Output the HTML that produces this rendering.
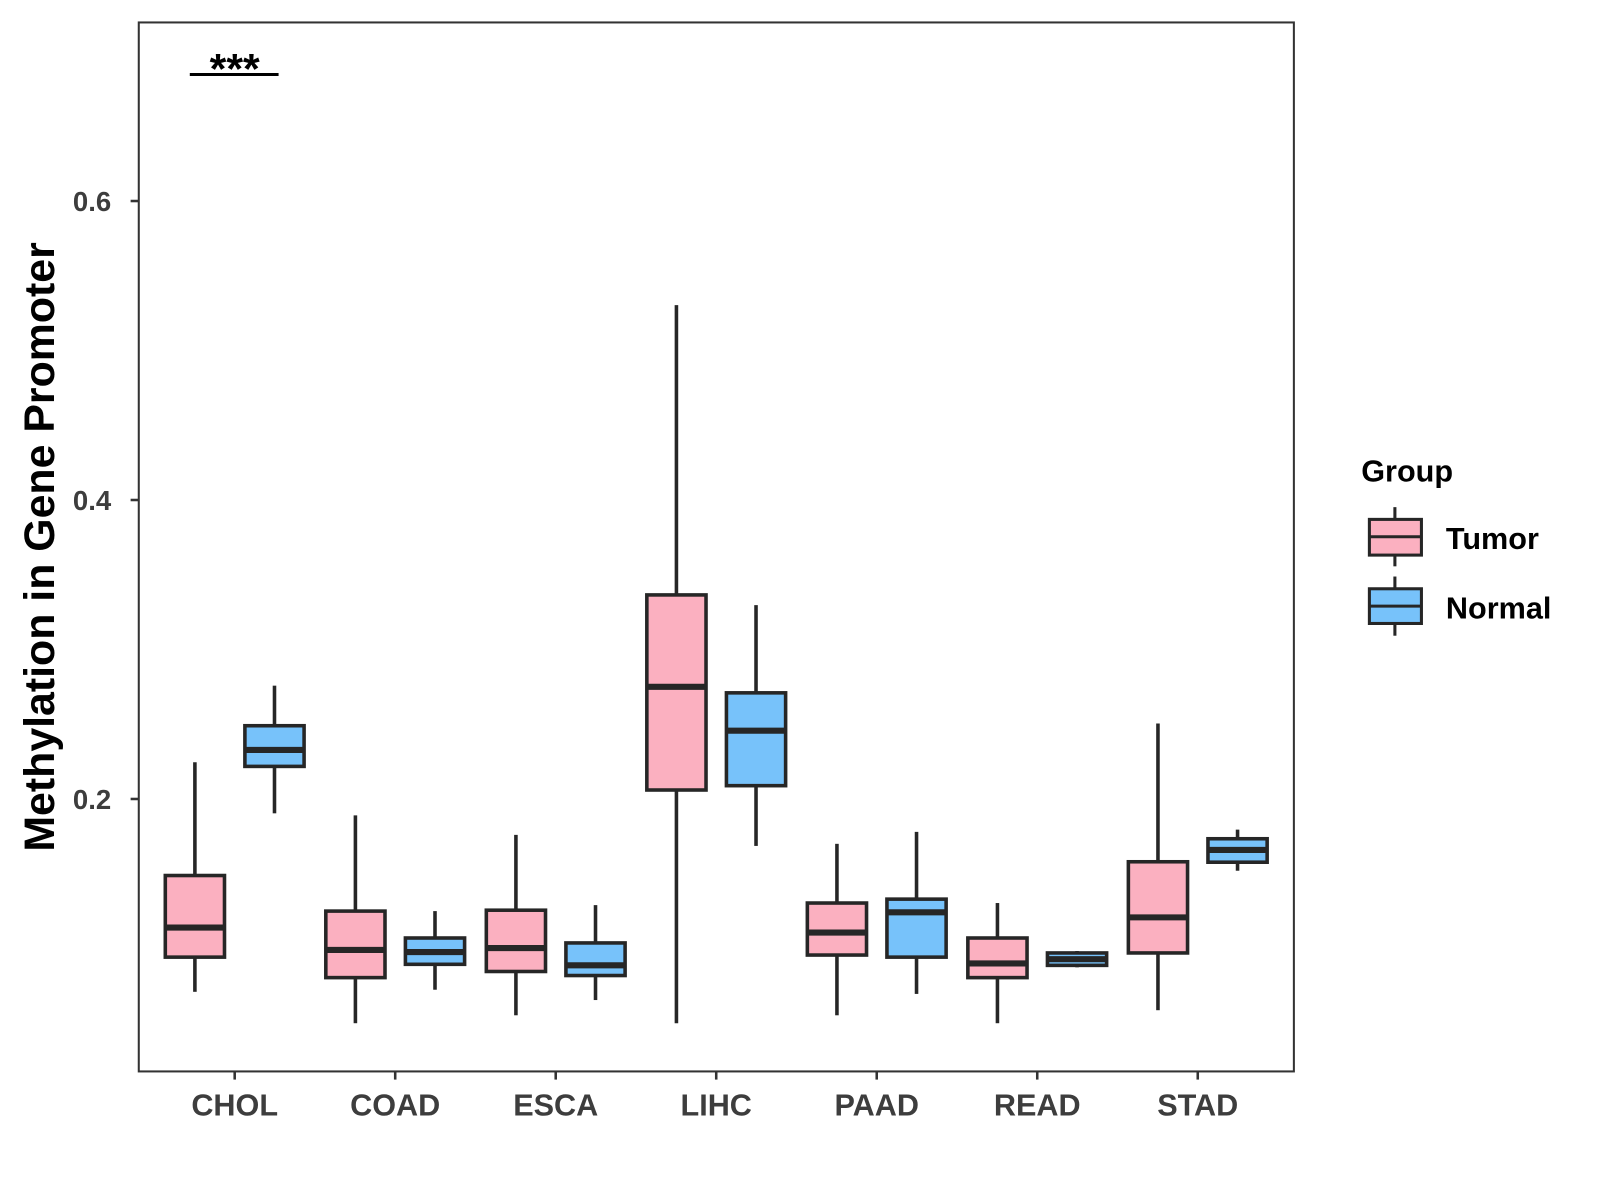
<!DOCTYPE html>
<html><head><meta charset="utf-8"><style>html,body{margin:0;padding:0;background:#fff}svg{display:block}</style></head>
<body>
<svg id="chart" width="1600" height="1200" viewBox="0 0 1568 1176" xmlns="http://www.w3.org/2000/svg" font-family="Liberation Sans, Arial, sans-serif">
<rect width="1568" height="1176" fill="#fff"/>
<g id="plot"></g>
</svg>
<script>
const categories = ["CHOL","COAD","ESCA","LIHC","PAAD","READ","STAD"];
// [low, q1, median, q3, high]
const tumorStats = [
  [0.071,0.0942,0.114,0.1488,0.2246],
  [0.050,0.0805,0.099,0.125,0.189],
  [0.0553,0.0846,0.1003,0.1256,0.176],
  [0.050,0.206,0.275,0.3365,0.5304],
  [0.0553,0.0956,0.1106,0.1304,0.170],
  [0.050,0.0805,0.090,0.107,0.1304],
  [0.0587,0.097,0.1208,0.158,0.2505]
];
const normalStats = [
  [0.1904,0.2218,0.2328,0.249,0.2758],
  [0.0724,0.0894,0.0976,0.107,0.125],
  [0.0655,0.0819,0.0887,0.1037,0.129],
  [0.1686,0.2089,0.2457,0.271,0.3297],
  [0.0696,0.0942,0.1242,0.133,0.178],
  [0.0874,0.0887,0.0928,0.097,0.0983],
  [0.152,0.1577,0.1659,0.1734,0.1795]
];
const yTicks = [0.2,0.4,0.6];
const yTickLabels = ["0.2","0.4","0.6"];

const NS="http://www.w3.org/2000/svg";
const g=document.getElementById('plot');
const L=136,R=1268,T=22,B=1050;
function yScale(v){return 783-(v-0.2)*1465;}
function xScale(i){return 230+i*157.3;}
function mk(tag,attrs,parent){const e=document.createElementNS(NS,tag);for(const k in attrs)e.setAttribute(k,attrs[k]);(parent||g).appendChild(e);return e;}

function drawBox(cx,s,fill,name){
  const grp=mk('g',{});
  
  
  const w=29;
  mk('line',{x1:cx,x2:cx,y1:yScale(s[4]),y2:yScale(s[3]),stroke:'#262626','stroke-width':3.5},grp);
  mk('line',{x1:cx,x2:cx,y1:yScale(s[1]),y2:yScale(s[0]),stroke:'#262626','stroke-width':3.5},grp);
  mk('rect',{x:cx-w,y:yScale(s[3]),width:2*w,height:yScale(s[1])-yScale(s[3]),fill:fill,stroke:'#262626','stroke-width':3.5},grp);
  mk('line',{x1:cx-w,x2:cx+w,y1:yScale(s[2]),y2:yScale(s[2]),stroke:'#262626','stroke-width':6},grp);
}
categories.forEach((c,i)=>{
  const cx=xScale(i);
  drawBox(cx-39,tumorStats[i],'#fbb0c0','box-tumor-'+c.toLowerCase());
  drawBox(cx+39,normalStats[i],'#77c2fa','box-normal-'+c.toLowerCase());
  const tk=mk('line',{x1:cx,x2:cx,y1:B,y2:B+8,stroke:'#333','stroke-width':2.5});
  
  
  const t=mk('text',{x:cx,y:1093,'text-anchor':'middle','font-size':30,'font-weight':'bold',fill:'#3d3d3d'});
  t.textContent=c;
  
  
});
yTicks.forEach((v,i)=>{
  const y=yScale(v);
  const tk=mk('line',{x1:L-8,x2:L,y1:y,y2:y,stroke:'#333','stroke-width':2.5});
  
  
  const t=mk('text',{x:L-27,y:y+10,'text-anchor':'end','font-size':27,'font-weight':'bold',fill:'#3d3d3d'});
  t.textContent=yTickLabels[i];
  
  
});
const fr=mk('rect',{x:L,y:T,width:R-L,height:B-T,fill:'none',stroke:'#333','stroke-width':2});


</script>
<script>
(function(){
const svg=document.getElementById('chart');
svg.insertAdjacentHTML('beforeend',`
<text transform="translate(53,536) rotate(-90)" text-anchor="middle" font-size="42" font-weight="bold" fill="#000">Methylation in Gene Promoter</text>
<g>
<line x1="186" x2="273" y1="73" y2="73" stroke="#000" stroke-width="3"/>
<text x="230" y="82" text-anchor="middle" font-size="42" font-weight="bold" fill="#000">***</text>
</g>
<g>
<text x="1334" y="472" font-size="30" font-weight="bold" fill="#000">Group</text>
<g>
<line x1="1367" x2="1367" y1="497" y2="555" stroke="#262626" stroke-width="3"/>
<rect x="1342" y="509" width="51" height="35" fill="#fbb0c0" stroke="#262626" stroke-width="3"/>
<line x1="1342" x2="1393" y1="526" y2="526" stroke="#262626" stroke-width="3"/>
<text x="1417" y="538" font-size="30" font-weight="bold" fill="#000">Tumor</text>
</g>
<g>
<line x1="1367" x2="1367" y1="565" y2="623" stroke="#262626" stroke-width="3"/>
<rect x="1342" y="577" width="51" height="34" fill="#77c2fa" stroke="#262626" stroke-width="3"/>
<line x1="1342" x2="1393" y1="594" y2="594" stroke="#262626" stroke-width="3"/>
<text x="1417" y="606" font-size="30" font-weight="bold" fill="#000">Normal</text>
</g>
</g>`);
})();
</script>
</body></html>
